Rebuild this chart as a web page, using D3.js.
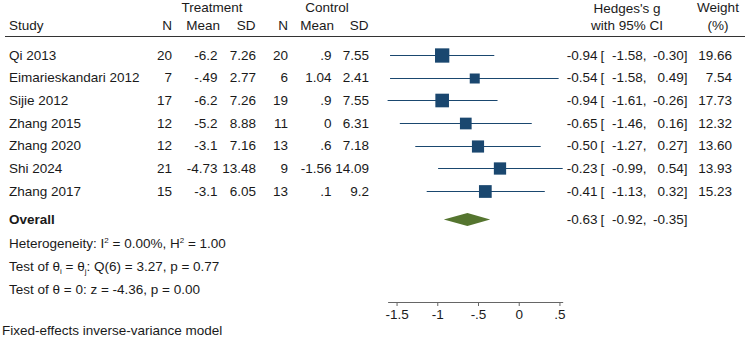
<!DOCTYPE html>
<html>
<head>
<meta charset="utf-8">
<script src="https://cdn.jsdelivr.net/npm/d3@7"></script>
<style>
  body { margin: 0; background: #fff; }
  svg { display: block; font-family: "Liberation Sans", Arial, sans-serif; font-size: 13.5px; fill: #1a1a1a; }
  .axis text { font-family: "Liberation Sans", Arial, sans-serif; font-size: 13.5px; fill: #1a1a1a; }
  .axis path, .axis line { stroke: #666; }
</style>
</head>
<body>
<div id="canvas"></div>
<script>
// study rows
var studies = ["Qi 2013", "Eimarieskandari 2012", "Sijie 2012", "Zhang 2015", "Zhang 2020", "Shi 2024", "Zhang 2017"];
var trtN    = [20, 7, 17, 12, 12, 21, 15];
var trtMean = [-6.2, -0.49, -6.2, -5.2, -3.1, -4.73, -3.1];
var trtSD   = [7.26, 2.77, 7.26, 8.88, 7.16, 13.48, 6.05];
var ctlN    = [20, 6, 19, 11, 13, 9, 13];
var ctlMean = [0.9, 1.04, 0.9, 0, 0.6, -1.56, 0.1];
var ctlSD   = [7.55, 2.41, 7.55, 6.31, 7.18, 14.09, 9.2];
var effect  = [-0.94, -0.54, -0.94, -0.65, -0.50, -0.23, -0.41];
var lower   = [-1.58, -1.58, -1.61, -1.46, -1.27, -0.99, -1.13];
var upper   = [-0.30, 0.49, -0.26, 0.16, 0.27, 0.54, 0.32];
var weight  = [19.66, 7.54, 17.73, 12.32, 13.60, 13.93, 15.23];

// overall estimate
var overallEffect = -0.63, overallLower = -0.92, overallUpper = -0.35;

var axisTicks = [-1.5, -1, -0.5, 0, 0.5];

var width = 748, height = 345;

var svg = d3.select('#canvas')
    .append('svg')
    .attr('width', width)
    .attr('height', height);

// stata style numbers: no leading zero
function fmt(v){
    return String(v).replace(/^(-?)0\./, '$1.');
}

var x = d3.scaleLinear()
    .domain([d3.min(lower), d3.max(upper)])
    .range([387.6, 562.7]);

var y = d3.scalePoint()
    .domain(studies)
    .range([55, 191]);

var size = d3.scaleLinear()
    .domain([7.54, 19.66])
    .range([10, 14.3]);

var yOverall = 219.5;

//header
function txt(xp, yp, s, anchor){
    return svg.append('text')
        .attr('x', xp).attr('y', yp).attr('dy', '0.35em')
        .attr('text-anchor', anchor || 'start')
        .text(s);
}
txt(212, 7, 'Treatment', 'middle');
txt(327, 7, 'Control', 'middle');
txt(627, 8, "Hedges's g", 'middle');
txt(718, 7, 'Weight', 'middle');
txt(9, 25.5, 'Study');
txt(172, 25.5, 'N', 'end');
txt(220, 25.5, 'Mean', 'end');
txt(255.5, 25.5, 'SD', 'end');
txt(288, 25.5, 'N', 'end');
txt(334, 25.5, 'Mean', 'end');
txt(368.5, 25.5, 'SD', 'end');
txt(627, 25.5, 'with 95% CI', 'middle');
txt(718, 25.5, '(%)', 'middle');

svg.append('line')
    .attr('x1', 5).attr('x2', 745)
    .attr('y1', 36.5).attr('y2', 36.5)
    .style('stroke', '#333').style('stroke-width', 1);

// table columns
var cols = [
    {vals: trtN, x: 172},
    {vals: trtMean, x: 217.5},
    {vals: trtSD, x: 256},
    {vals: ctlN, x: 288},
    {vals: ctlMean, x: 331.5},
    {vals: ctlSD, x: 369}
];

studies.forEach(function(s, i){
    var yy = y(s);
    txt(9, yy, s);
    cols.forEach(function(c){
        txt(c.x, yy, fmt(c.vals[i]), 'end');
    });
    txt(597.5, yy, effect[i].toFixed(2), 'end');
    txt(600.5, yy, '[');
    txt(646.5, yy, lower[i].toFixed(2) + ',', 'end');
    txt(687.5, yy, upper[i].toFixed(2) + ']', 'end');
    txt(732, yy, weight[i].toFixed(2), 'end');

    // CI line and square
    var ly = Math.round(yy) + 0.5;
    svg.append('line')
        .attr('x1', x(lower[i])).attr('x2', x(upper[i]))
        .attr('y1', ly).attr('y2', ly)
        .style('stroke', '#1a476f').style('stroke-width', 1);
    var sz = size(weight[i]);
    svg.append('rect')
        .attr('x', x(effect[i]) - sz / 2)
        .attr('y', ly - sz / 2)
        .attr('width', sz).attr('height', sz)
        .style('fill', '#1a476f');
});

// overall row
txt(9, yOverall, 'Overall').style('font-weight', 'bold');
txt(597.5, yOverall, overallEffect.toFixed(2), 'end');
txt(600.5, yOverall, '[');
txt(646.5, yOverall, overallLower.toFixed(2) + ',', 'end');
txt(687.5, yOverall, overallUpper.toFixed(2) + ']', 'end');

var dh = 6.5;
svg.append('path')
    .attr('d', 'M' + x(overallLower) + ',' + yOverall +
               'L' + x(overallEffect) + ',' + (yOverall - dh) +
               'L' + x(overallUpper) + ',' + yOverall +
               'L' + x(overallEffect) + ',' + (yOverall + dh) + 'Z')
    .style('fill', '#55752f');

// stats lines (super/subscripts shifted in px so the baseline comes back)
var t1 = txt(9, 243, 'Heterogeneity: I');
t1.append('tspan').attr('dy', '-5px').style('font-size', '8px').text('2');
t1.append('tspan').attr('dy', '5px').text(' = 0.00%, H');
t1.append('tspan').attr('dy', '-5px').style('font-size', '8px').text('2');
t1.append('tspan').attr('dy', '5px').text(' = 1.00');

var t2 = txt(9, 266.5, 'Test of θ');
t2.append('tspan').attr('dy', '3px').style('font-size', '8px').text('i');
t2.append('tspan').attr('dy', '-3px').text(' = θ');
t2.append('tspan').attr('dy', '3px').style('font-size', '8px').text('j');
t2.append('tspan').attr('dy', '-3px').text(': Q(6) = 3.27, p = 0.77');

txt(9, 289, 'Test of θ = 0: z = -4.36, p = 0.00');

txt(2, 330, 'Fixed-effects inverse-variance model');

// axis
var axis = d3.axisBottom(x)
    .tickValues(axisTicks)
    .tickFormat(fmt)
    .tickSize(4)
    .tickSizeOuter(0);

svg.append('g')
    .attr('class', 'axis')
    .attr('transform', 'translate(0,302)')
    .call(axis);
</script>
</body>
</html>
